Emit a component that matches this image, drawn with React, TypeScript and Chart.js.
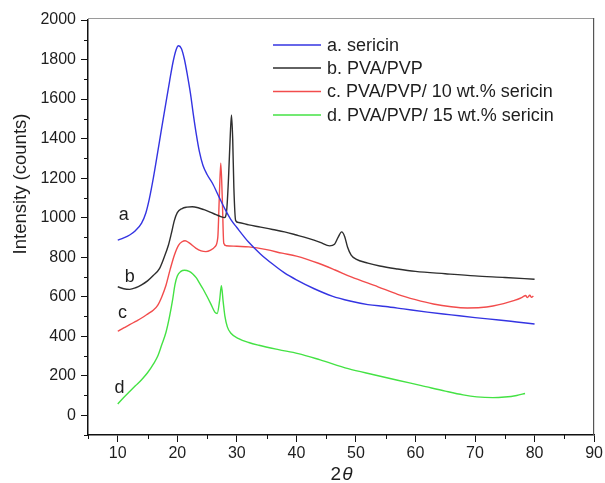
import React, { useEffect, useRef } from "react";
import { Chart, registerables } from "chart.js";

Chart.register(...registerables);

// ---- Data ----
const seriesNames = [
  "a. sericin",
  "b. PVA/PVP",
  "c. PVA/PVP/ 10 wt.% sericin",
  "d. PVA/PVP/ 15 wt.% sericin",
];
const curveTags = ["a", "b", "c", "d"];

const sericinX = [10, 11, 12, 13, 14, 14.7, 15.3, 16, 16.7, 17.3, 18, 18.7, 19.3, 19.8, 20.2, 20.7, 21.2, 21.7, 22.2, 22.7, 23.2, 23.7, 24.3, 25, 25.9, 27, 28.1, 29, 30, 32, 34, 36, 38, 40, 43, 46, 49, 52, 55, 58, 62, 66, 70, 74, 77, 80];
const sericinY = [886, 897, 912, 935, 972, 1022, 1095, 1205, 1330, 1440, 1565, 1690, 1790, 1850, 1870, 1855, 1800, 1720, 1630, 1520, 1420, 1335, 1265, 1218, 1174, 1105, 1038, 990, 950, 875, 815, 765, 720, 685, 640, 603, 578, 560, 550, 538, 522, 508, 494, 482, 472, 462];

const pvaX = [10, 11, 12, 13, 14, 15, 16, 17, 17.8, 18.5, 19, 19.5, 20, 20.8, 21.6, 22.5, 23.5, 24.5, 25.5, 26.5, 27.3, 27.9, 28.3, 28.6, 28.9, 29.1, 29.3, 29.5, 29.8, 30.3, 32, 34, 36, 38, 40, 42, 44, 45.6, 46.4, 47, 47.6, 48.1, 48.6, 49.2, 50, 52, 54, 57, 60, 65, 70, 75, 80];
const pvaY = [650, 640, 637, 645, 660, 680, 708, 742, 800, 860, 920, 985, 1025, 1046, 1053, 1055, 1050, 1040, 1028, 1015, 1005, 1000, 1040, 1200, 1420, 1520, 1400, 1150, 985, 975, 963, 952, 940, 928, 912, 895, 875, 857, 865, 900, 928, 905, 850, 810, 790, 770, 755, 740, 728, 716, 705, 697, 688];

const pva10X = [10, 11, 12, 13, 14, 15, 16, 16.7, 17.4, 18.1, 18.8, 19.5, 20.2, 20.8, 21.3, 22, 23.1, 24, 24.8, 25.6, 26.3, 26.8, 27.05, 27.3, 27.55, 27.8, 28.2, 30, 32, 35, 37.6, 40, 43.7, 46.5, 49.2, 53.7, 57, 60, 63, 66, 68.7, 71, 73, 74.8, 76.5, 77.6, 78.1, 78.5, 78.8, 79.2, 79.5, 79.8];
const pva10Y = [425, 442, 458, 475, 492, 512, 533, 556, 600, 658, 738, 810, 860, 878, 883, 872, 846, 832, 828, 836, 852, 900, 1100, 1275, 1100, 870, 858, 855, 852, 838, 820, 805, 769, 735, 700, 650, 612, 585, 563, 549, 543, 545, 553, 565, 580, 592, 600, 606, 595, 607, 597, 603];

const pva15X = [10, 11, 12, 13, 14, 15, 16, 16.7, 17.4, 18.1, 18.7, 19.2, 19.6, 20, 20.6, 21.2, 22, 22.6, 23.2, 23.7, 24.3, 24.8, 25.6, 26.3, 26.7, 27.1, 27.4, 27.7, 28, 28.4, 29, 30.3, 32, 33.7, 37, 40.3, 44, 48.7, 53, 57, 61, 65, 68, 70.3, 73, 75, 77, 78.4];
const pva15Y = [57, 90, 120, 150, 180, 215, 260, 298, 358, 420, 500, 582, 660, 705, 728, 734, 728, 715, 695, 670, 640, 612, 565, 522, 515, 580, 655, 575, 500, 447, 415, 388, 368, 354, 332, 312, 280, 236, 205, 177, 150, 122, 103, 93, 89, 92, 100, 110];

const xTickValues = [10, 20, 30, 40, 50, 60, 70, 80, 90];
const yTickValues = [0, 200, 400, 600, 800, 1000, 1200, 1400, 1600, 1800, 2000];

// ---- Styling ----
const colors = ["#3434e2", "#2e2e2e", "#f24c4c", "#44e244"];
const FONT = "'Liberation Sans', Arial, sans-serif";
const TEXT = "#1e1e1e";

const toPoints = (xs: number[], ys: number[]) => xs.map((x, i) => ({ x, y: ys[i] }));

const decorPlugin = {
  id: "decor",
  afterDraw(chart: any) {
    const { ctx, chartArea: a, scales } = chart;
    const xs = scales.x;
    const ys = scales.y;
    ctx.save();
    // top and right frame
    ctx.lineWidth = 1.2;
    ctx.strokeStyle = "#9a9a9a";
    ctx.beginPath();
    ctx.moveTo(a.left, a.top - 1.5);
    ctx.lineTo(a.right, a.top - 1.5);
    ctx.stroke();
    ctx.strokeStyle = "#555";
    ctx.beginPath();
    ctx.moveTo(a.right - 0.5, a.top - 2);
    ctx.lineTo(a.right - 0.5, a.bottom);
    ctx.stroke();

    // minor ticks
    ctx.strokeStyle = "#111";
    ctx.lineWidth = 1;
    for (let v = ys.min; v <= ys.max; v += 100) {
      if (v % 200 === 0) continue;
      const py = Math.round(ys.getPixelForValue(v)) + 0.5;
      ctx.beginPath();
      ctx.moveTo(a.left - 4, py);
      ctx.lineTo(a.left, py);
      ctx.stroke();
    }
    for (let v = xs.min; v <= xs.max; v += 5) {
      if (v % 10 === 0) continue;
      const px = Math.round(xs.getPixelForValue(v)) + 0.5;
      ctx.beginPath();
      ctx.moveTo(px, a.bottom);
      ctx.lineTo(px, a.bottom + 4);
      ctx.stroke();
    }

    // curve tags a-d
    const tagAnchors = [
      [11, 1013],
      [12, 699],
      [10.8, 516],
      [10.3, 137],
    ];
    ctx.fillStyle = TEXT;
    ctx.font = `18px ${FONT}`;
    ctx.textAlign = "center";
    ctx.textBaseline = "middle";
    curveTags.forEach((t, i) => {
      ctx.fillText(t, xs.getPixelForValue(tagAnchors[i][0]), ys.getPixelForValue(tagAnchors[i][1]));
    });

    // legend
    const lx0 = 273;
    const lx1 = 321;
    const tx = 327;
    const rowY = [45, 68, 91.5, 115];
    ctx.font = `18px ${FONT}`;
    ctx.textAlign = "left";
    ctx.textBaseline = "middle";
    seriesNames.forEach((n, i) => {
      ctx.strokeStyle = colors[i];
      ctx.lineWidth = 1.5;
      ctx.beginPath();
      ctx.moveTo(lx0, rowY[i]);
      ctx.lineTo(lx1, rowY[i]);
      ctx.stroke();
      ctx.fillStyle = TEXT;
      ctx.fillText(n, tx, rowY[i] + 1);
    });

    // y title
    ctx.save();
    ctx.translate(21, 184);
    ctx.rotate(-Math.PI / 2);
    ctx.font = `18.5px ${FONT}`;
    ctx.textAlign = "center";
    ctx.textBaseline = "middle";
    ctx.fillStyle = TEXT;
    ctx.fillText("Intensity (counts)", 0, 0);
    ctx.restore();

    // x title: 2θ
    const cx = (a.left + a.right) / 2;
    ctx.font = `19px ${FONT}`;
    const w2 = ctx.measureText("2").width;
    ctx.font = `italic 19px ${FONT}`;
    const wt = ctx.measureText("θ").width;
    const start = cx - (w2 + wt) / 2;
    ctx.textAlign = "left";
    ctx.textBaseline = "alphabetic";
    ctx.font = `19px ${FONT}`;
    ctx.fillText("2", start, 480);
    ctx.font = `italic 19px ${FONT}`;
    ctx.fillText("θ", start + w2 + 1, 480);

    ctx.restore();
  },
};

export default function App() {
  const ref = useRef<HTMLCanvasElement | null>(null);

  useEffect(() => {
    if (!ref.current) return;
    const data = [
      toPoints(sericinX, sericinY),
      toPoints(pvaX, pvaY),
      toPoints(pva10X, pva10Y),
      toPoints(pva15X, pva15Y),
    ];
    const chart = new Chart(ref.current, {
      type: "line",
      data: {
        datasets: data.map((d, i) => ({
          label: seriesNames[i],
          data: d,
          borderColor: colors[i],
          backgroundColor: colors[i],
          borderWidth: 1.4,
          pointRadius: 0,
          fill: false,
          cubicInterpolationMode: "monotone" as const,
        })),
      },
      options: {
        animation: false,
        responsive: false,
        maintainAspectRatio: false,
        layout: { padding: { left: 0, top: 20, right: 8, bottom: 0 } },
        plugins: {
          legend: { display: false },
          tooltip: { enabled: false },
          title: { display: false },
        },
        scales: {
          x: {
            type: "linear",
            min: 5,
            max: 90,
            afterFit: (s: any) => {
              s.height = 48;
            },
            afterBuildTicks: (s: any) => {
              const t = [];
              for (let v = 5; v <= 90; v += 5) t.push({ value: v });
              s.ticks = t;
            },
            ticks: {
              autoSkip: false,
              maxRotation: 0,
              padding: 2,
              color: TEXT,
              font: { family: FONT, size: 16 },
              callback: (v: any) => (xTickValues.includes(Number(v)) ? String(v) : ""),
            },
            grid: {
              display: true,
              drawOnChartArea: false,
              drawTicks: true,
              tickLength: 7,
              tickWidth: 1,
              tickColor: (c: any) => (c.tick && xTickValues.includes(c.tick.value) ? "#111" : "rgba(0,0,0,0)"),
            },
            border: { display: true, color: "#111", width: 1.5 },
          },
          y: {
            type: "linear",
            min: -100,
            max: 2000,
            afterFit: (s: any) => {
              s.width = 88;
            },
            afterBuildTicks: (s: any) => {
              const t = [];
              for (let v = -100; v <= 2000; v += 100) t.push({ value: v });
              s.ticks = t;
            },
            ticks: {
              autoSkip: false,
              padding: 5,
              color: TEXT,
              font: { family: FONT, size: 16 },
              callback: (v: any) => (yTickValues.includes(Number(v)) ? String(v) : ""),
            },
            grid: {
              display: true,
              drawOnChartArea: false,
              drawTicks: true,
              tickLength: 7,
              tickWidth: 1,
              tickColor: (c: any) => (c.tick && yTickValues.includes(c.tick.value) ? "#111" : "rgba(0,0,0,0)"),
            },
            border: { display: true, color: "#111", width: 1.5 },
          },
        },
      },
      plugins: [decorPlugin],
    });
    return () => chart.destroy();
  }, []);

  return (
    <div style={{ position: "fixed", left: 0, top: 0, width: 605, height: 483, background: "#fff" }}>
      <canvas ref={ref} width={605} height={483} style={{ width: 605, height: 483, display: "block" }} />
    </div>
  );
}
